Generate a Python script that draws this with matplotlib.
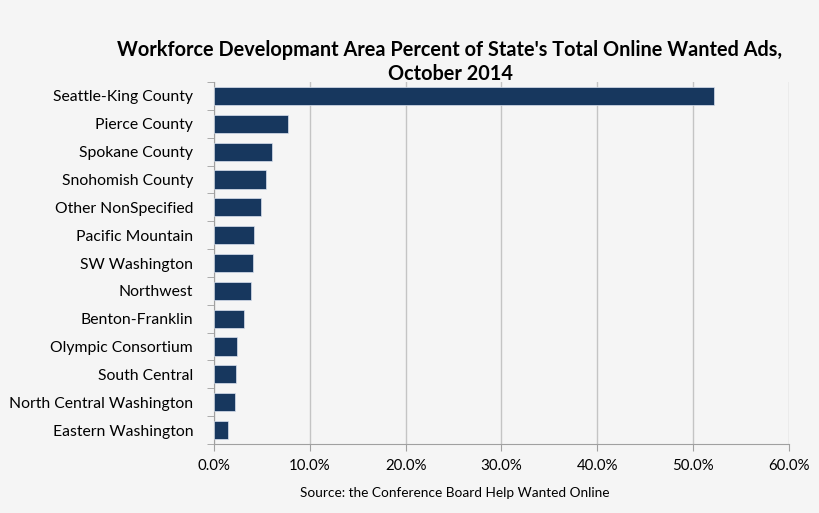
import numpy as np
import matplotlib
matplotlib.use("Agg")
import matplotlib.pyplot as plt
from matplotlib.ticker import FixedLocator, FuncFormatter

plt.rcParams['font.family'] = ['Lato', 'DejaVu Sans']

areas = ["Seattle-King County", "Pierce County", "Spokane County", "Snohomish County",
         "Other NonSpecified", "Pacific Mountain", "SW Washington", "Northwest",
         "Benton-Franklin", "Olympic Consortium", "South Central",
         "North Central Washington", "Eastern Washington"]
share = [52.2, 7.77, 6.1, 5.4, 4.9, 4.2, 4.06, 3.85, 3.08, 2.41, 2.34, 2.2, 1.47]
xticks = [0, 10, 20, 30, 40, 50, 60]

bg = "#f5f5f5"
fig = plt.figure(figsize=(8.2, 5.13), dpi=100, facecolor=bg)
ax = fig.add_axes([214 / 820, 1 - 444 / 513, 575 / 820, 362 / 513], facecolor=bg)

y = np.arange(len(areas))
ax.barh(y, share, height=0.65, color="#17375e", edgecolor="#d9e1ee", linewidth=0.5, zorder=3)
ax.set_ylim(len(areas) - 0.5, -0.5)
ax.set_xlim(0, 60)

ax.set_yticks(y)
ax.set_yticklabels(areas, fontsize=11.3, color="#000000")
ax.yaxis.set_minor_locator(FixedLocator(np.arange(-0.5, len(areas), 1)))
ax.tick_params(axis="y", which="major", length=0, pad=15)
ax.tick_params(axis="y", which="minor", length=5, color="#a0a0a0", direction="out")

ax.set_xticks(xticks)
ax.xaxis.set_major_formatter(FuncFormatter(lambda v, p: "%.1f%%" % v))
ax.tick_params(axis="x", length=5, color="#a0a0a0", labelsize=10.8, pad=6)
ax.grid(axis="x", color="#c4c4c4", linewidth=1, zorder=0)

for s in ["top", "right"]:
    ax.spines[s].set_visible(False)
for s in ["left", "bottom"]:
    ax.spines[s].set_color("#a0a0a0")

fig.text(450 / 820, 1 - 62 / 513, "Workforce Developmant Area Percent of State's Total Online Wanted Ads,\nOctober 2014",
         ha="center", va="center", fontsize=14.3, fontweight="bold", linespacing=1.25)
fig.text(455 / 820, 1 - 493 / 513, "Source: the Conference Board Help Wanted Online",
         ha="center", va="center", fontsize=9.8)

fig.savefig("out.png", dpi=100, facecolor=bg)
